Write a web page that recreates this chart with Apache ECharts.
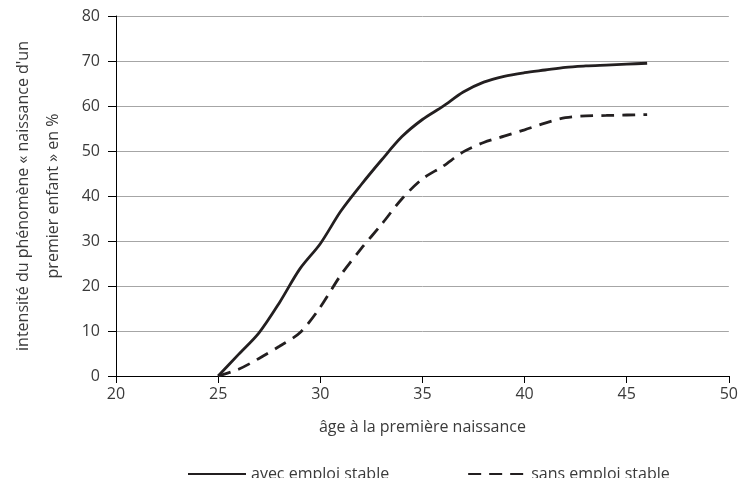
<!DOCTYPE html>
<html>
<head>
<meta charset="utf-8">
<script src="https://cdn.jsdelivr.net/npm/echarts@6/dist/echarts.min.js"></script>
<style>
html, body { margin: 0; padding: 0; background: #fff; }
#chartDisplay { width: 741px; height: 478px; }
</style>
</head>
<body>
<div id="chartDisplay"></div>
<script>
// ages (x) and the two cumulative curves
var ages = [25, 26, 27, 28, 29, 30, 31, 32, 33, 34, 35, 36, 37, 38, 39, 40, 41, 42, 43, 44, 45, 46];
var avecEmploi = [0, 4.8, 9.6, 16.3, 23.8, 29.4, 36.6, 42.5, 48, 53.2, 57, 59.9, 63.1, 65.3, 66.6, 67.4, 68, 68.6, 68.9, 69.1, 69.3, 69.5];
var sansEmploi = [0, 1.5, 3.9, 6.6, 9.6, 15.3, 22.4, 28.3, 33.7, 39.4, 43.8, 46.6, 49.8, 51.9, 53.3, 54.7, 56.2, 57.4, 57.8, 57.9, 58, 58.1];
var seriesNames = ["avec emploi stable", "sans emploi stable"];
var xName = "âge à la première naissance";
var yName = "intensité du phénomène « naissance d'un\npremier enfant » en %";

var fontName = "Open Sans";
var fontSize = 16;
var textColor = "#3a3a3a";
var lineColor = "#231f20";

function toPairs(values){
	var list = [];
	for(var i=0;i<ages.length;i++){
		list.push([ages[i], values[i]]);
	}
	return list;
}

var chart = echarts.init(document.getElementById("chartDisplay"));

var option = {
	backgroundColor : "#fff",
	animation : false,
	textStyle : { fontFamily : fontName },
	grid : {
		left : 108,
		right : 7,
		top : 16,
		bottom : 102
	},
	legend : {
		left : 182,
		top : 461,
		itemWidth : 58,
		itemHeight : 14,
		itemGap : 78,
		itemStyle : { opacity : 0 },   // hide the round marker, keep the line
		textStyle : { fontFamily : fontName, fontSize : fontSize, color : textColor },
		data : seriesNames
	},
	xAxis : {
		type : 'value',
		min : 20,
		max : 50,
		interval : 5,
		name : xName,
		nameLocation : 'middle',
		nameGap : 43,
		nameTextStyle : { fontFamily : fontName, fontSize : fontSize, color : textColor },
		axisLine : { lineStyle : { color : "#000", width : 1 } },
		axisTick : { show : true, length : 7, lineStyle : { color : "#000" } },
		axisLabel : { fontFamily : fontName, fontSize : fontSize, color : textColor, margin : 10 },
		splitLine : { show : false }
	},
	yAxis : {
		type : 'value',
		min : 0,
		max : 80,
		interval : 10,
		name : yName,
		nameLocation : 'middle',
		nameRotate : 90,
		nameGap : 48,
		nameTextStyle : { fontFamily : fontName, fontSize : fontSize, color : textColor, lineHeight : 30 },
		axisLine : { show : true, lineStyle : { color : "#000", width : 1 } },
		axisTick : { show : true, length : 8, lineStyle : { color : "#000" } },
		axisLabel : { fontFamily : fontName, fontSize : fontSize, color : textColor, margin : 16 },
		splitLine : { show : true, lineStyle : { color : "#a6a6a6", width : 1 } }
	},
	series : [
		{
			name : seriesNames[0],
			type : 'line',
			symbol : 'none',
			smooth : 0.3,
			lineStyle : { color : lineColor, width : 2.8 },
			itemStyle : { color : lineColor },
			data : toPairs(avecEmploi)
		},
		{
			name : seriesNames[1],
			type : 'line',
			symbol : 'none',
			smooth : 0.3,
			lineStyle : { color : lineColor, width : 2.8, type : [13, 8] },
			itemStyle : { color : lineColor },
			data : toPairs(sansEmploi)
		}
	]
};
chart.setOption(option);
</script>
</body>
</html>
